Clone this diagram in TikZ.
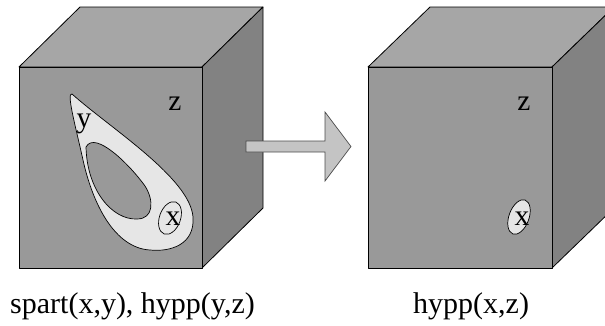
\documentclass[tikz,border=0pt]{standalone}
\usepackage{fontspec}
\setmainfont{Liberation Serif}
\definecolor{topface}{HTML}{A6A6A6}
\definecolor{frontface}{HTML}{999999}
\definecolor{sideface}{HTML}{828282}
\definecolor{blob}{HTML}{E6E6E6}
\definecolor{arrowfill}{HTML}{C4C4C4}
\begin{document}
\begin{tikzpicture}[x=1pt,y=-1pt,
  edge/.style={draw=black,line width=0.8pt,line join=round},
  blobline/.style={draw=black,line width=0.7pt,fill=blob},
  big/.style={font=\fontsize{30}{31}\selectfont,inner sep=0pt},
  letter/.style={font=\fontsize{29.5}{30}\selectfont,inner sep=0pt,anchor=base}]
\useasboundingbox (0,0) rectangle (605,325);
\clip (0,0) rectangle (605,325);
% left cube
\fill[topface,edge] (19,67) -- (80,7) -- (263,7) -- (202,67) -- cycle;
\fill[sideface,edge] (202,67) -- (263,7) -- (263,208) -- (202,268) -- cycle;
\fill[frontface,edge] (19,67) rectangle (202,268);
% blob
\path[blobline,even odd rule]
  (72,94) .. controls (110,128) and (190,178) .. (193,217)
  .. controls (195,245) and (170,252) .. (150,250)
  .. controls (115,248) and (93,205) .. (83,160)
  .. controls (76,128) and (66,92) .. (72,94) -- cycle
  (86,147) .. controls (87,190) and (112,220) .. (137,219)
  .. controls (154,219) and (154,200) .. (145,186)
  .. controls (130,165) and (95,130) .. (86,147) -- cycle;
\draw[line width=0.7pt,fill=blob,rotate around={-20:(170,218)}] (170,218) ellipse [x radius=10.5, y radius=17];
\node[letter] (zl) at (175,110) {z};
\node[letter] (yl) at (84,127) {y};
\node[letter] (xl) at (173,225) {x};
% right cube
\fill[topface,edge] (368,67) -- (430,7) -- (614,7) -- (552,67) -- cycle;
\fill[sideface,edge] (552,67) -- (614,7) -- (614,208) -- (552,268) -- cycle;
\fill[frontface,edge] (368,67) rectangle (552,268);
\draw[line width=0.7pt,fill=blob,rotate around={-20:(519,217)}] (519,217) ellipse [x radius=10, y radius=18];
\node[letter] (zr) at (524,110) {z};
\node[letter] (xr) at (522,225) {x};
% arrow
\fill[arrowfill,draw=black!70,line width=0.7pt,line join=miter]
  (246,141) -- (325,141) -- (325,112) -- (351,146.5) -- (325,181) -- (325,152) -- (246,152) -- cycle;
% captions
\node[big,anchor=base west] (capl) at (10,313) {spart(x,y), hypp(y,z)};
\node[big,anchor=base west] (capr) at (413,313) {hypp(x,z)};
\end{tikzpicture}
\end{document}
